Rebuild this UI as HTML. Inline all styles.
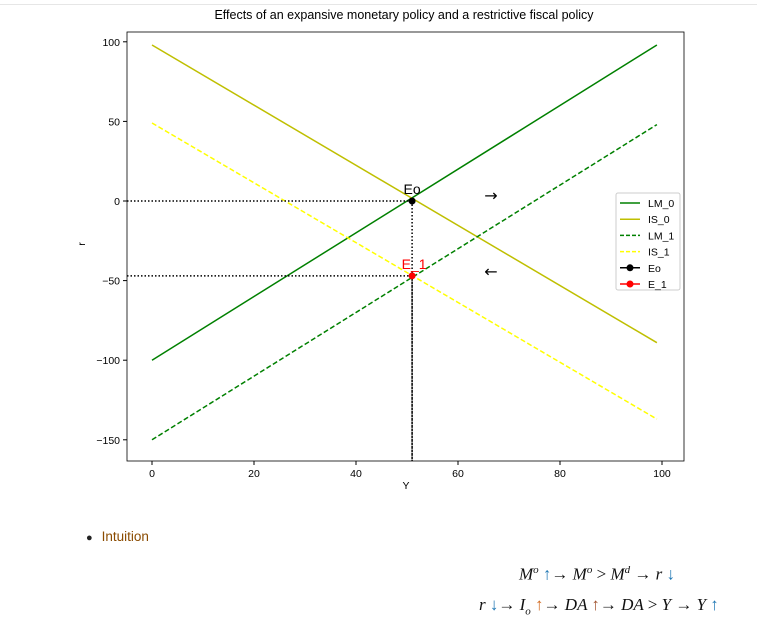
<!DOCTYPE html>
<html><head><meta charset="utf-8"><style>
body{margin:0;background:#fff;width:757px;height:627px;overflow:hidden;font-family:"Liberation Sans",sans-serif;}
.m{font-family:"Liberation Serif",serif;font-style:italic;font-size:17px;position:absolute;white-space:nowrap;color:#111}
.m span.n{font-style:normal}
</style></head><body>
<div style="position:absolute;left:0;top:4px;width:757px;height:1px;background:#e6e6e6"></div>
<svg id="chart" width="757" height="500" style="position:absolute;left:0;top:0" font-family="Liberation Sans, sans-serif"></svg>
<div style="position:absolute;left:86px;top:529px;font-size:13.5px;color:#8a4b00"><span style="color:#222;font-size:11px;margin-right:9px">●</span>Intuition</div>
<div class="m" style="left:519px;top:564px">M<sup style="font-size:11px">o</sup> <span class="n" style="color:#1f77b4">↑</span><span class="n">→</span> M<sup style="font-size:11px">o</sup> <span class="n">&gt;</span> M<sup style="font-size:11px">d</sup> <span class="n">→</span> r <span class="n" style="color:#1f77b4">↓</span></div>
<div class="m" style="left:479px;top:595px">r <span class="n" style="color:#1f77b4">↓</span><span class="n">→</span> I<sub style="font-size:11px">o</sub> <span class="n" style="color:#d2691e">↑</span><span class="n">→</span> DA <span class="n" style="color:#a0522d">↑</span><span class="n">→</span> DA <span class="n">&gt;</span> Y <span class="n">→</span> Y <span class="n" style="color:#1f77b4">↑</span></div>
<script>
const xs=[0,99];
const lm0=[-100,98];
const is0=[98,-89];
const lm1=[-150,48];
const is1=[49,-137];
const eo=[51,0];
const e1=[51,-47];
const xTicks=[0,20,40,60,80,100];
const yTicks=[100,50,0,-50,-100,-150];
const svg=document.getElementById('chart');
const NS='http://www.w3.org/2000/svg';
const L=127,R=684,T=32,B=461;
const sx=v=>152+v*5.1;
const sy=v=>201-v*1.592;
function el(t,a,p){const e=document.createElementNS(NS,t);for(const k in a)e.setAttribute(k,a[k]);(p||svg).appendChild(e);return e;}
let t=el('text',{x:404,y:19,'text-anchor':'middle','font-size':12.5,fill:'#000'});t.textContent='Effects of an expansive monetary policy and a restrictive fiscal policy';


xTicks.forEach(v=>{const l=el('line',{x1:sx(v),x2:sx(v),y1:B,y2:B+4,stroke:'#000'});


const tx=el('text',{x:sx(v),y:B+16,'text-anchor':'middle','font-size':10.5});tx.textContent=v;

});
yTicks.forEach(v=>{const l=el('line',{x1:L-4,x2:L,y1:sy(v),y2:sy(v),stroke:'#000'});


const tx=el('text',{x:L-7,y:sy(v)+4,'text-anchor':'end','font-size':10.5});tx.textContent=String(v).replace('-','−');

});
t=el('text',{x:406,y:489,'text-anchor':'middle','font-size':10.5});t.textContent='Y';


t=el('text',{x:85,y:244,'text-anchor':'middle','font-size':10.5,transform:'rotate(-90 85 244)'});t.textContent='r';


function line(d,c,dash,name){const e=el('line',{x1:sx(xs[0]),y1:sy(d[0]),x2:sx(xs[1]),y2:sy(d[1]),stroke:c,'stroke-width':1.5,'stroke-dasharray':dash||''});

}
line(lm0,'#008000','','lm0-line');line(is0,'#bfbf00','','is0-line');line(lm1,'#008000','5,2.5','lm1-line');line(is1,'#ffff00','5,2.5','is1-line');
[[eo,'#000','Eo',0],[e1,'#f00','E_1',2]].forEach(([p,c,lab,dx],i)=>{
let h=el('line',{x1:L,y1:sy(p[1]),x2:sx(p[0]),y2:sy(p[1]),stroke:'#000','stroke-width':1.5,'stroke-dasharray':'1.5,2'});


let v=el('line',{x1:sx(p[0]),y1:sy(p[1]),x2:sx(p[0]),y2:B,stroke:'#000','stroke-width':1.5,'stroke-dasharray':'1.5,2'});


let c1=el('circle',{cx:sx(p[0]),cy:sy(p[1]),r:3.5,fill:c});


let tx=el('text',{x:sx(p[0])+dx,y:sy(p[1])-7,'text-anchor':'middle','font-size':14,fill:c});tx.textContent=lab;

});
t=el('text',{x:491,y:201,'text-anchor':'middle','font-size':16,'font-family':'DejaVu Sans'});t.textContent='→';


t=el('text',{x:491,y:277,'text-anchor':'middle','font-size':16,'font-family':'DejaVu Sans'});t.textContent='←';


let fr=el('rect',{x:L,y:T,width:R-L,height:B-T,fill:'none',stroke:'#000','stroke-width':0.8});


const g=el('g',{});


el('rect',{x:616,y:193,width:64,height:97,fill:'#fff',stroke:'#ccc',rx:2},g);
[['LM_0','#008000',''],['IS_0','#bfbf00',''],['LM_1','#008000','4,2'],['IS_1','#ffff00','4,2'],['Eo','#000','m'],['E_1','#f00','m']].forEach(([n,c,d],i)=>{
const y=203+i*16.2;
const ln=el('line',{x1:620,x2:640,y1:y,y2:y,stroke:c,'stroke-width':1.5,'stroke-dasharray':d==='m'?'':d},g);


if(d==='m')el('circle',{cx:630,cy:y,r:3.5,fill:c},g);
const tx=el('text',{x:648,y:y+4,'font-size':10.5},g);tx.textContent=n;

});
</script>
</body></html>
